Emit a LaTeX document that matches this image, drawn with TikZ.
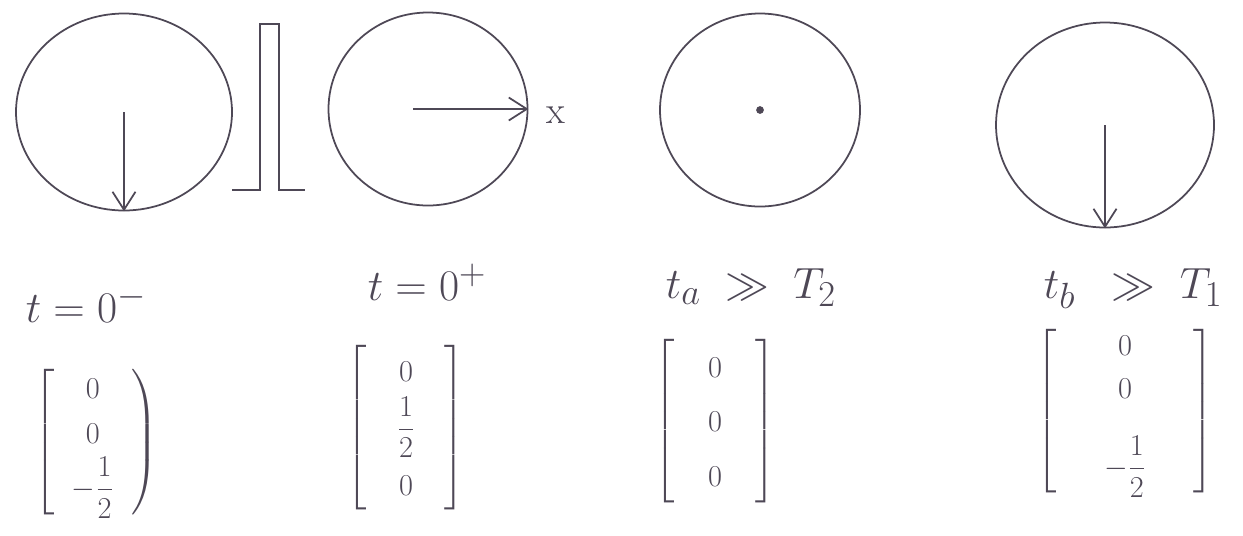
\documentclass[tikz,border=0pt]{standalone}
\usepackage{amsmath}
\usetikzlibrary{shapes.geometric, arrows.meta, positioning}
\definecolor{pencil}{RGB}{78,72,86}

\begin{document}
\begin{tikzpicture}[color=pencil, line width=1pt,
    disc/.style={draw, ellipse, inner sep=0pt},
    spin/.style={-{Straight Barb[length=3.6mm, width=4.6mm]}, line width=1pt},
    lbl/.style={anchor=base west, inner sep=0pt, font=\fontsize{28}{32}\selectfont},
    vec/.style={inner sep=0pt, font=\fontsize{16}{19}\selectfont}]
                \useasboundingbox (0,0) rectangle (24.86,-10.7);
                % Discs
                \node[disc, minimum width=4.32cm, minimum height=3.94cm] (c1) at (2.48, -2.24) {};
                \node[disc, minimum width=3.98cm, minimum height=3.86cm] (c2) at (8.56, -2.18) {};
                \node[disc, minimum width=4.0cm, minimum height=3.86cm] (c3) at (15.2, -2.2) {};
                \node[disc, minimum width=4.36cm, minimum height=4.1cm] (c4) at (22.1, -2.5) {};
                % Pulse
                \draw (4.64, -3.8) -- (5.2, -3.8) -- (5.2, -0.48) -- (5.58, -0.48) -- (5.58, -3.8) -- (6.1, -3.8);
                % Vectors
                \draw[spin] (c1.center) -- (c1.south);
                \draw[spin] ([xshift=-0.3cm]c2.center) -- (c2.east);
                \node[font=\fontsize{22}{26}\selectfont, right=0.22cm of c2.east, yshift=-0.12cm] (xaxis) {x};
                \fill (c3.center) circle (2.2pt);
                \draw[spin] (c4.center) -- (c4.south);
                % Times
                \node[lbl] (t1) at (0.5, -6.44) {$t=0^-$};
                \node[lbl] (t2) at (7.34, -6.0) {$t=0^+$};
                \node[lbl] (t3) at (13.3, -5.96) {$t_a \;\gg\; T_2$};
                \node[lbl] (t4) at (20.86, -5.96) {$t_b \;\;\gg\; T_1$};
                % Magnetisation
                \node[vec] (m1) at (1.92, -8.85) {$\renewcommand{\arraystretch}{1.35}\left[\begin{array}{@{\hspace{10pt}}c@{\hspace{10pt}}} 0\\ 0\\ -\dfrac{1}{2} \end{array}\right)$};
                \node[vec] (m2) at (8.12, -8.55) {$\renewcommand{\arraystretch}{1.6}\left[\begin{array}{@{\hspace{17pt}}c@{\hspace{17pt}}} 0\\ \dfrac{1}{2}\\ 0 \end{array}\right]$};
                \node[vec] (m3) at (14.3, -8.42) {$\renewcommand{\arraystretch}{1.63}\left[\begin{array}{@{\hspace{19pt}}c@{\hspace{19pt}}} 0\\ 0\\ 0 \end{array}\right]$};
                \node[vec] (m4) at (22.5, -8.22) {$\renewcommand{\arraystretch}{1.3}\left[\begin{array}{@{\hspace{27pt}}c@{\hspace{27pt}}} 0\\ 0\\[14pt] -\dfrac{1}{2} \end{array}\right]$};

            \end{tikzpicture}
\end{document}
